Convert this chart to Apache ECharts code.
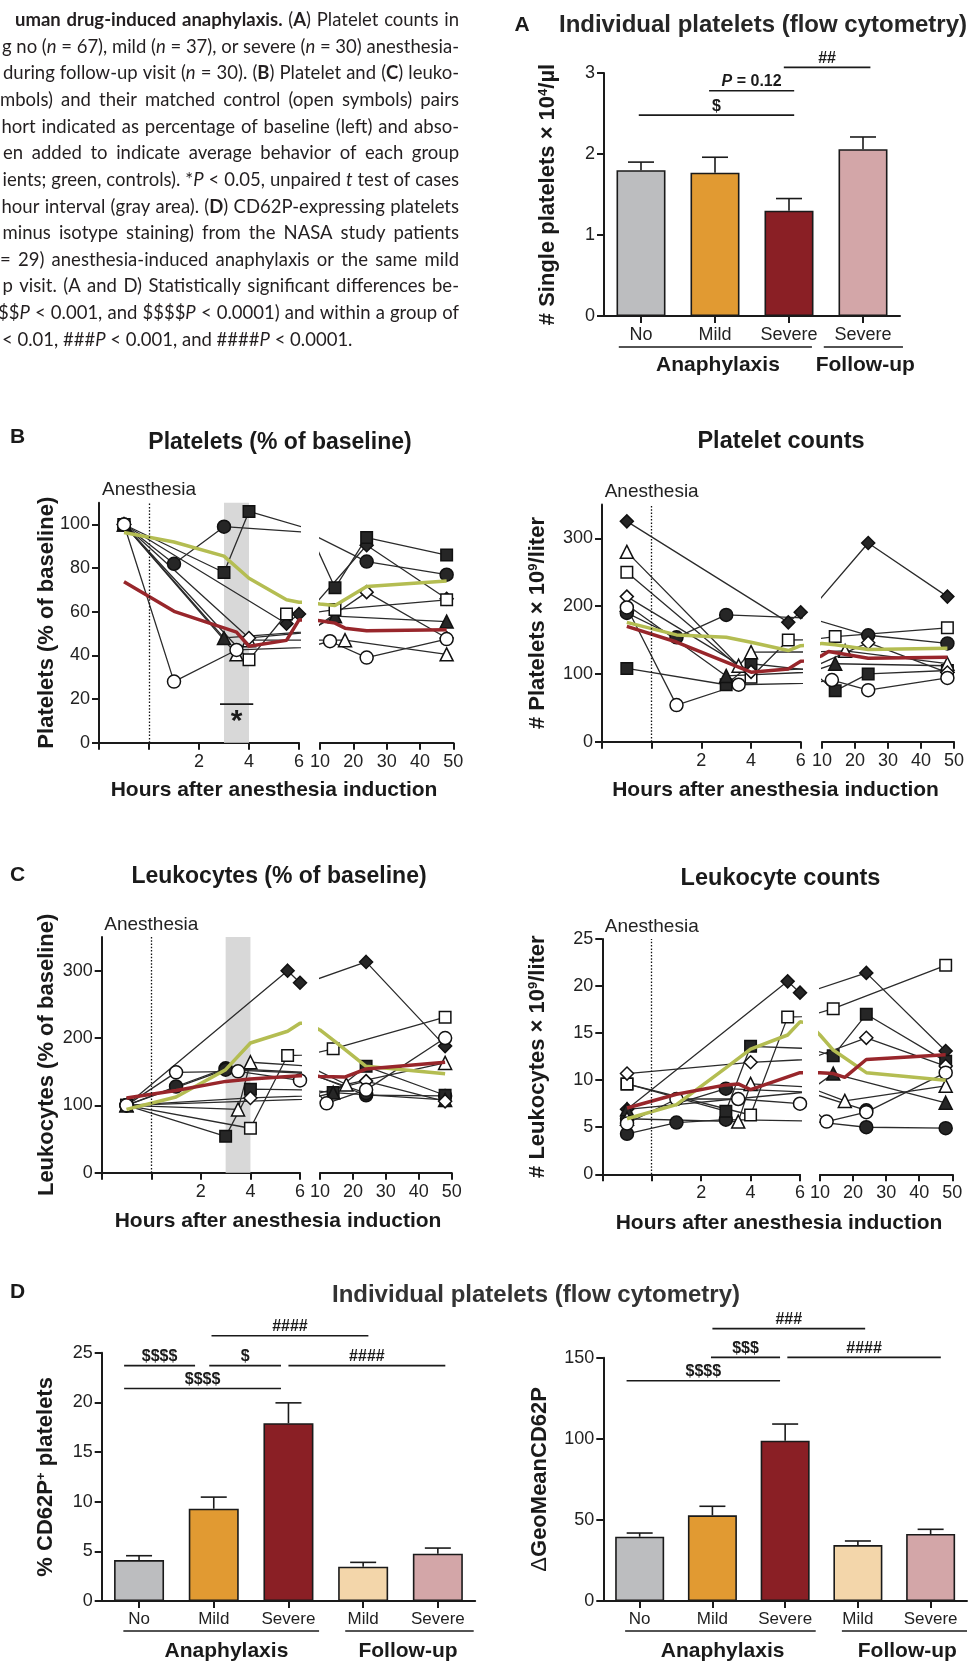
<!DOCTYPE html>
<html>
<head>
<meta charset="utf-8">
<title>Platelets and leukocytes in drug-induced anaphylaxis</title>
<script src="https://cdn.jsdelivr.net/npm/echarts@6.0.0/dist/echarts.min.js"></script>
<style>
  html, body { margin: 0; padding: 0; background: #fff; }
  #main { width: 968px; height: 1661px; }
</style>
</head>
<body>
<div id="main"></div>
<script>
// ---------------- data ----------------
// A: single platelets x 10^4/ul (mean, SEM)
var aCategories = ['No', 'Mild', 'Severe', 'Severe'];
var aMeans = [1.80, 1.77, 1.30, 2.06];
var aSem = [0.10, 0.19, 0.15, 0.15];

// D: CD62P expression (mean, SEM)
var dCategories = ['No', 'Mild', 'Severe', 'Mild', 'Severe'];
var dPctMeans = [4.12, 9.29, 17.9, 3.45, 4.76];
var dPctSem = [0.44, 1.17, 2.05, 0.44, 0.57];
var dGeoMeans = [39.6, 52.8, 98.8, 34.5, 41.3];
var dGeoSem = [2.3, 5.6, 10.3, 2.5, 2.9];

// B / C: time axes
var earlyHourTicks = [-2, 0, 2, 4, 6];
var earlyHourLabels = [2, 4, 6];
var pctTicks = [0, 20, 40, 60, 80, 100];
var countTicks = [0, 100, 200, 300];
var leukoCountTicks = [0, 5, 10, 15, 20, 25];

// B: platelets per subject, [hours, value]
var plateletSymbols = ['diamond', 'circle', 'rect', 'triangle', 'triangle', 'rect', 'diamond', 'circle'];
var plateletFilled = [true, true, true, true, false, false, false, false];
var plateletPct = [
  [[-1, 100], [5.5, 54.5], [6, 59], [24, 90.5], [48, 66]],
  [[-1, 100], [1, 82], [3, 99], [24, 83], [48, 77]],
  [[-1, 100], [3, 78], [4, 106], [14.5, 71], [24, 94], [48, 86]],
  [[-1, 100], [3, 48], [14.5, 58], [48, 55.5]],
  [[-1, 100], [3.5, 40.5], [4, 47], [17.5, 47], [48, 40.5]],
  [[-1, 100], [4, 38], [5.5, 59], [14.5, 61], [48, 65.5]],
  [[-1, 100], [4, 48], [24, 69], [48, 48]],
  [[-1, 100], [1, 28], [3.5, 42.5], [13, 46.5], [24, 39], [48, 47.5]]
];
var plateletCount = [
  [[-1, 325], [5.5, 176], [6, 191], [24, 293], [48, 214]],
  [[-1, 190], [1, 154], [3, 187], [24, 157], [48, 145]],
  [[-1, 108], [3, 84], [4, 115], [14, 75], [24, 100], [48, 105]],
  [[-1, 202], [3, 97], [14, 115], [48, 112]],
  [[-1, 280], [3.5, 112], [4, 132], [17, 134], [48, 115]],
  [[-1, 250], [4, 95], [5.5, 150], [14, 155], [48, 168]],
  [[-1, 214], [4, 103], [24, 146], [48, 102]],
  [[-1, 198], [1, 54], [3.5, 84], [13, 91], [24, 76], [48, 94]]
];
var plateletPctPatients = [[-1, 73.8], [1, 60.2], [3.5, 50.7], [4, 44.2], [5.5, 46.9], [6, 56.3], [10, 55.9], [14.5, 54.8], [17.5, 52.5], [24, 51.3], [48, 51.8]];
var plateletPctControls = [[-1, 96.3], [1, 92], [3, 85.5], [4, 75.4], [5.5, 65.5], [6, 64.4], [10, 63.6], [14.5, 62.9], [24, 71.6], [48, 74.1]];
var plateletCountPatients = [[-1, 170], [1, 147], [4, 102.5], [5.5, 107.4], [6, 118.7], [10, 127], [12, 133], [24, 123], [48, 124.6]];
var plateletCountControls = [[-1, 176], [1, 157.5], [3, 154], [4, 146.7], [5.5, 134.4], [6, 141.7], [10, 145], [14, 143], [24, 136], [48, 138]];

// C: leukocytes per subject, [hours, value]
var leukoSymbols = ['diamond', 'circle', 'circle', 'rect', 'triangle', 'triangle', 'rect', 'diamond', 'circle'];
var leukoFilled = [true, true, true, true, true, false, false, false, false];
var leukoPct = [
  [[-1, 100], [5.5, 300], [6, 282], [24, 313], [48, 188]],
  [[-1, 100], [1, 128], [3, 155], [24, 115], [48, 114]],
  [[-1, 100], [3, 153], [24, 118]],
  [[-1, 100], [3, 54], [4, 124], [14, 119], [24, 158], [48, 115]],
  [[-1, 100], [14, 119], [48, 108]],
  [[-1, 100], [3.5, 94], [4, 164], [18, 131], [48, 163]],
  [[-1, 100], [4, 66], [5.5, 174], [14, 184], [48, 231]],
  [[-1, 100], [4, 111], [24, 136], [48, 106]],
  [[-1, 100], [1, 149], [3.5, 150.5], [6, 137], [12, 103], [24, 123], [48, 200]]
];
var leukoCount = [
  [[-1, 6.9], [5.5, 20.5], [6, 19.3], [24, 21.4], [48, 13.1]],
  [[-1, 4.3], [1, 5.5], [3, 5.8], [24, 5.0], [48, 4.9]],
  [[-1, 5.9], [3, 9.1], [24, 6.8]],
  [[-1, 9.6], [3, 6.7], [4, 13.6], [14, 12.6], [24, 17], [48, 12]],
  [[-1, 6.9], [14, 10.7], [48, 7.6]],
  [[-1, 5.9], [3.5, 5.6], [4, 9.6], [17.5, 7.8], [48, 9.4]],
  [[-1, 9.6], [4, 6.3], [5.5, 16.7], [14, 17.6], [48, 22.2]],
  [[-1, 10.7], [4, 11.9], [24, 14.5], [48, 11.5]],
  [[-1, 5.4], [1, 8.0], [3.5, 8.0], [6, 7.5], [12, 5.6], [24, 6.6], [48, 10.8]]
];
var leukoPctPatients = [[-1, 111], [1, 122], [3, 135.6], [4, 139], [6, 144], [10, 143], [17.5, 142], [24, 154], [48, 164]];
var leukoPctControls = [[-1, 94], [1, 112.4], [3, 153], [4, 192.6], [5.5, 210], [6, 222], [10, 212], [14.5, 195], [24, 158], [48, 147]];
var leukoCountPatients = [[-1, 7.05], [1, 8.5], [3, 9.5], [3.5, 9.6], [4, 9.0], [6, 10.8], [10, 10.8], [14, 10.7], [17.5, 10.3], [24, 12.2], [48, 12.7]];
var leukoCountControls = [[-1, 5.9], [1, 7.4], [3, 11.3], [4, 13.3], [5.5, 14.8], [6, 16.2], [10, 14.8], [14, 13.2], [24, 10.8], [48, 10.0]];

// significance bars (x in category index, y in data units)
var aSig = [
  {x1: -0.03, x2: 2.07, y: 2.48, text: '$'},
  {x1: 0.92, x2: 2.07, y: 2.78, text: '{pi|P}{pb| = 0.12}'},
  {x1: 1.93, x2: 3.1, y: 3.07, text: '##'}
];
var dPctSig = [
  {x1: 0.97, x2: 3.07, y: 26.7, text: '####'},
  {x1: -0.2, x2: 0.75, y: 23.7, text: '$$$$'},
  {x1: 0.94, x2: 1.9, y: 23.7, text: '$'},
  {x1: 2.0, x2: 4.1, y: 23.7, text: '####'},
  {x1: -0.2, x2: 1.9, y: 21.4, text: '$$$$'}
];
var dGeoSig = [
  {x1: 1.0, x2: 3.1, y: 167.9, text: '###'},
  {x1: 0.98, x2: 1.93, y: 150.2, text: '$$$'},
  {x1: 2.03, x2: 4.14, y: 150.2, text: '####'},
  {x1: -0.18, x2: 1.93, y: 135.8, text: '$$$$'}
];
var bStar = [{x1: 2.84, x2: 4.17, y: 17.7, text: '*', below: true, size: 30, dy: 3}];

// ---------------- style ----------------
var FONT = 'Arial, "Liberation Sans", Helvetica, sans-serif';
var INK = '#1a1a1a';
var GREEN = '#b4bd52';
var RED = '#98262b';
var aColors = ['#bcbdbf', '#e19a32', '#8a1f25', '#d3a6a8'];
var dColors = ['#bcbdbf', '#e19a32', '#8a1f25', '#f3d6aa', '#d3a6a8'];

var SIG_RICH = {
  pi: {fontFamily: FONT, fontSize: 16, fontWeight: 'bold', fontStyle: 'italic', fill: INK},
  pb: {fontFamily: FONT, fontSize: 16, fontWeight: 'bold', fill: INK}
};

var grids = [], xAxes = [], yAxes = [], series = [], graphics = [];

function ext(a, b) { for (var k in b) a[k] = b[k]; return a; }
function axisLine() { return {show: true, onZero: false, lineStyle: {color: INK, width: 2}}; }
function axisTick(extra) { return ext({show: true, inside: false, length: 7, lineStyle: {color: INK, width: 2}}, extra || {}); }
function axisLabel(extra) { return ext({color: '#222', fontFamily: FONT, fontSize: 18, margin: 9}, extra || {}); }
function nameStyle() {
  return {
    fontFamily: FONT, fontSize: 22, fontWeight: 'bold', color: INK,
    rich: {
      n: {fontFamily: FONT, fontSize: 22, fontWeight: 'bold', color: INK},
      s: {fontFamily: FONT, fontSize: 13, fontWeight: 'bold', color: INK, verticalAlign: 'top'},
      d: {fontFamily: FONT, fontSize: 22, fontWeight: 'normal', color: INK}
    }
  };
}
function yName(axis, name, gap) {
  return ext(axis, {name: name, nameLocation: 'middle', nameRotate: 90, nameGap: gap,
    nameMoveOverlap: false, nameTextStyle: nameStyle()});
}

function addGrid(rect, xAxis, yAxis) {
  var i = grids.length;
  grids.push({left: rect[0], top: rect[1], width: rect[2], height: rect[3], containLabel: false, outerBoundsMode: 'none'});
  xAxis.gridIndex = i;
  yAxis.gridIndex = i;
  xAxes.push(xAxis);
  yAxes.push(yAxis);
  return i;
}

// pixel of a (possibly fractional) category index or a value pair
function toPx(api, x, y, isCat) {
  if (!isCat) return api.coord([x, y]);
  var i = Math.floor(x), p0 = api.coord([i, y]), p1 = api.coord([i + 1, y]);
  return [p0[0] + (x - i) * (p1[0] - p0[0]), p0[1]];
}

function textStyle(t, size, weight, align, vAlign) {
  return {text: t, fill: INK, fontFamily: FONT, fontSize: size, fontWeight: weight,
    align: align, textAlign: align, verticalAlign: vAlign, textVerticalAlign: vAlign, rich: SIG_RICH};
}

function errorSeries(g, means, sem) {
  return {
    type: 'custom', xAxisIndex: g, yAxisIndex: g, z: 3, silent: true,
    data: means.map(function (v, i) { return [i, v, v + sem[i]]; }),
    encode: {x: 0, y: 1},
    renderItem: function (params, api) {
      var base = api.coord([api.value(0), api.value(1)]);
      var top = api.coord([api.value(0), api.value(2)]);
      var st = {stroke: INK, lineWidth: 1.6};
      return {type: 'group', children: [
        {type: 'line', shape: {x1: base[0], y1: base[1], x2: top[0], y2: top[1]}, style: st},
        {type: 'line', shape: {x1: top[0] - 13, y1: top[1], x2: top[0] + 13, y2: top[1]}, style: st}
      ]};
    }
  };
}

function bracketSeries(g, items, isCat) {
  return {
    type: 'custom', xAxisIndex: g, yAxisIndex: g, z: 6, silent: true, clip: false,
    data: items.map(function () { return [0, 0]; }),
    encode: {x: 0, y: 1},
    renderItem: function (params, api) {
      var it = items[params.dataIndex];
      var a = toPx(api, it.x1, it.y, isCat), b = toPx(api, it.x2, it.y, isCat);
      var below = !!it.below;
      var ty = below ? a[1] + (it.dy || 1) : a[1] - 1;
      return {type: 'group', children: [
        {type: 'line', shape: {x1: a[0], y1: a[1], x2: b[0], y2: b[1]}, style: {stroke: INK, lineWidth: 1.6}},
        {type: 'text', x: (a[0] + b[0]) / 2, y: ty,
          style: textStyle(it.text, it.size || 16, 'bold', 'center', below ? 'top' : 'bottom')}
      ]};
    }
  };
}

function groupSeries(g, groups, lineDy, textDy) {
  return {
    type: 'custom', xAxisIndex: g, yAxisIndex: g, silent: true, clip: false,
    data: groups.map(function () { return [0, 0]; }),
    encode: {x: 0, y: 1},
    renderItem: function (params, api) {
      var it = groups[params.dataIndex];
      var a = toPx(api, it.x1, 0, true), b = toPx(api, it.x2, 0, true), c = toPx(api, it.labelX, 0, true);
      return {type: 'group', children: [
        {type: 'line', shape: {x1: a[0], y1: a[1] + lineDy, x2: b[0], y2: a[1] + lineDy}, style: {stroke: INK, lineWidth: 1.6}},
        {type: 'text', x: c[0], y: a[1] + textDy, style: textStyle(it.text, 21, 'bold', 'center', 'middle')}
      ]};
    }
  };
}

function barPanel(o) {
  var g = addGrid(o.rect,
    {type: 'category', data: o.categories, axisLine: axisLine(),
      axisTick: axisTick({alignWithLabel: true}),
      axisLabel: axisLabel({fontSize: o.labelSize, margin: 10, interval: 0}),
      splitLine: {show: false}},
    yName({type: 'value', min: 0, max: o.yMax, interval: o.yInterval, axisLine: axisLine(),
      axisTick: axisTick(), axisLabel: axisLabel({margin: 9}), splitLine: {show: false}}, o.yName, o.nameGap));
  series.push({
    type: 'bar', xAxisIndex: g, yAxisIndex: g, barWidth: o.barWidth, z: 2, silent: true,
    data: o.means.map(function (v, i) { return {value: v, itemStyle: {color: o.colors[i]}}; }),
    itemStyle: {borderColor: INK, borderWidth: 1.6}
  });
  series.push(errorSeries(g, o.means, o.sem));
  series.push(bracketSeries(g, o.sig, true));
  series.push(groupSeries(g, o.groups, o.lineDy, o.textDy));
}

function subjectLine(g, pts, sym, filled) {
  return {
    type: 'line', xAxisIndex: g, yAxisIndex: g, data: pts, clip: true, z: 2, silent: true,
    symbol: sym, symbolSize: sym === 'rect' ? 11.5 : 13, showAllSymbol: true,
    lineStyle: {color: '#2b2b2b', width: 1.3},
    itemStyle: {color: filled ? '#262626' : '#ffffff', borderColor: '#111', borderWidth: 1.5}
  };
}
function meanLine(g, pts, color) {
  return {
    type: 'line', xAxisIndex: g, yAxisIndex: g, data: pts, clip: true, z: 3, silent: true,
    symbol: 'none', lineStyle: {color: color, width: 3.5}
  };
}

function linePanel(o) {
  function yAx(show) {
    return {type: 'value', min: 0, max: o.yMax, show: show, axisLine: axisLine(),
      axisTick: axisTick({customValues: o.yTicks}), axisLabel: axisLabel({customValues: o.yTicks, margin: 9}),
      splitLine: {show: false}};
  }
  var gL = addGrid(o.left,
    {type: 'value', min: -2, max: 6, axisLine: axisLine(),
      axisTick: axisTick({customValues: earlyHourTicks}),
      axisLabel: axisLabel({customValues: earlyHourLabels, margin: 10}), splitLine: {show: false}},
    yName(yAx(true), o.yName, o.nameGap));
  var gR = addGrid(o.right,
    {type: 'value', min: 10, max: 50, interval: 10, axisLine: axisLine(), axisTick: axisTick(),
      axisLabel: axisLabel({margin: 10}), splitLine: {show: false}},
    yAx(false));
  [gL, gR].forEach(function (g) {
    o.subjects.forEach(function (pts, k) { series.push(subjectLine(g, pts, o.symbols[k], o.filled[k])); });
  });
  [gL, gR].forEach(function (g, j) {
    var ctrl = meanLine(g, o.controls, GREEN);
    if (j === 0) {
      ctrl.markLine = {
        silent: true, symbol: ['none', 'none'], animation: false,
        lineStyle: {type: [1.5, 1.8], color: '#111', width: 1.3},
        label: {show: true, position: 'end', formatter: 'Anesthesia', color: '#222',
          fontFamily: FONT, fontSize: 19, distance: 3},
        data: [{xAxis: 0}]
      };
      if (o.band) {
        ctrl.markArea = {silent: true, label: {show: false}, itemStyle: {color: '#d8d8d8'},
          data: [[{xAxis: o.band[0]}, {xAxis: o.band[1]}]]};
      }
    }
    series.push(ctrl);
    series.push(meanLine(g, o.patients, RED));
  });
  if (o.star) series.push(bracketSeries(gL, o.star, false));
}

// ---------------- panels ----------------
barPanel({
  rect: [604, 73, 296, 243], categories: aCategories, means: aMeans, sem: aSem, colors: aColors,
  yMax: 3, yInterval: 1, yName: '{n|# Single platelets × 10}{s|4}{n|/µl}', nameGap: 45,
  labelSize: 18, barWidth: 49, sig: aSig, lineDy: 31, textDy: 49,
  groups: [
    {text: 'Anaphylaxis', x1: -0.3, x2: 2.31, labelX: 1.04},
    {text: 'Follow-up', x1: 2.47, x2: 3.54, labelX: 3.03}
  ]
});

linePanel({
  left: [99, 502.7, 200, 240], right: [320, 502.7, 133.3, 240], yMax: 110, yTicks: pctTicks,
  yName: 'Platelets (% of baseline)', nameGap: 41,
  subjects: plateletPct, symbols: plateletSymbols, filled: plateletFilled,
  patients: plateletPctPatients, controls: plateletPctControls, band: [3, 4], star: bStar
});
linePanel({
  left: [602, 504.4, 198.7, 237.3], right: [822, 504.4, 132, 237.3], yMax: 350, yTicks: countTicks,
  yName: '{n|# Platelets × 10}{s|9}{n|/liter}', nameGap: 53,
  subjects: plateletCount, symbols: plateletSymbols, filled: plateletFilled,
  patients: plateletCountPatients, controls: plateletCountControls
});
linePanel({
  left: [101.7, 937, 198.3, 235.7], right: [320, 937, 131.7, 235.7], yMax: 350, yTicks: countTicks,
  yName: 'Leukocytes (% of baseline)', nameGap: 44,
  subjects: leukoPct, symbols: leukoSymbols, filled: leukoFilled,
  patients: leukoPctPatients, controls: leukoPctControls, band: [3, 4]
});
linePanel({
  left: [602.3, 939, 197.7, 235.3], right: [820, 939, 132.3, 235.3], yMax: 25, yTicks: leukoCountTicks,
  yName: '{n|# Leukocytes × 10}{s|9}{n|/liter}', nameGap: 53,
  subjects: leukoCount, symbols: leukoSymbols, filled: leukoFilled,
  patients: leukoCountPatients, controls: leukoCountControls
});

barPanel({
  rect: [101.7, 1352.7, 373.5, 248.3], categories: dCategories, means: dPctMeans, sem: dPctSem, colors: dColors,
  yMax: 25, yInterval: 5, yName: '{n|% CD62P}{s|+}{n| platelets}', nameGap: 45,
  labelSize: 17, barWidth: 50, sig: dPctSig, lineDy: 30, textDy: 50,
  groups: [
    {text: 'Anaphylaxis', x1: -0.21, x2: 2.41, labelX: 1.17},
    {text: 'Follow-up', x1: 2.76, x2: 4.48, labelX: 3.6}
  ]
});
barPanel({
  rect: [603.3, 1357.7, 363.7, 243.3], categories: dCategories, means: dGeoMeans, sem: dGeoSem, colors: dColors,
  yMax: 150, yInterval: 50, yName: '{d|Δ}{n|GeoMeanCD62P}', nameGap: 52,
  labelSize: 17, barWidth: 49, sig: dGeoSig, lineDy: 30, textDy: 50,
  groups: [
    {text: 'Anaphylaxis', x1: -0.2, x2: 2.42, labelX: 1.14},
    {text: 'Follow-up', x1: 2.78, x2: 4.5, labelX: 3.68}
  ]
});

// ---------------- free text ----------------
function addText(x, y, text, size, weight, align, color, family, rich) {
  graphics.push({
    type: 'text', x: x, y: y, silent: true,
    style: {text: text, fill: color || INK, fontFamily: family || FONT, fontSize: size, fontWeight: weight,
      align: align, textAlign: align, verticalAlign: 'middle', textVerticalAlign: 'middle', rich: rich}
  });
}

addText(522, 25, 'A', 21, 'bold', 'center');
addText(763, 25, 'Individual platelets (flow cytometry)', 24, 'bold', 'center', '#262626');
addText(17.5, 437.5, 'B', 21, 'bold', 'center');
addText(280, 443, 'Platelets (% of baseline)', 23, 'bold', 'center');
addText(781, 442, 'Platelet counts', 23.5, 'bold', 'center');
addText(17.5, 875.5, 'C', 21, 'bold', 'center');
addText(279, 877, 'Leukocytes (% of baseline)', 23, 'bold', 'center');
addText(780.5, 879, 'Leukocyte counts', 23.5, 'bold', 'center');
addText(17.5, 1292.5, 'D', 21, 'bold', 'center');
addText(536, 1295, 'Individual platelets (flow cytometry)', 24, 'bold', 'center', '#333');
addText(274, 790, 'Hours after anesthesia induction', 21, 'bold', 'center');
addText(775.5, 790, 'Hours after anesthesia induction', 21, 'bold', 'center');
addText(278, 1221, 'Hours after anesthesia induction', 21, 'bold', 'center');
addText(779, 1223, 'Hours after anesthesia induction', 21, 'bold', 'center');

// caption block (cropped at the left edge, justified to x = 459)
var CAP_FONT = 'Lato, "Noto Sans", sans-serif';
var CAP_SIZE = 18.5;
var CAP_INK = '#231f20';
var CAP_RICH = {
  b: {fontFamily: CAP_FONT, fontSize: CAP_SIZE, fontWeight: 'bold', fill: CAP_INK},
  i: {fontFamily: CAP_FONT, fontSize: CAP_SIZE, fontStyle: 'italic', fill: CAP_INK}
};
var captionLines = [
  '{b|uman} {b|drug-induced} {b|anaphylaxis.} ({b|A}) Platelet counts in',
  'g no ({i|n} = 67), mild ({i|n} = 37), or severe ({i|n} = 30) anesthesia-',
  'during follow-up visit ({i|n} = 30). ({b|B}) Platelet and ({b|C}) leuko-',
  'mbols) and their matched control (open symbols) pairs',
  'hort indicated as percentage of baseline (left) and abso-',
  'en added to indicate average behavior of each group',
  'ients; green, controls). *{i|P} < 0.05, unpaired {i|t} test of cases',
  'hour interval (gray area). ({b|D}) CD62P-expressing platelets',
  'minus isotype staining) from the NASA study patients',
  '= 29) anesthesia-induced anaphylaxis or the same mild',
  'p visit. (A and D) Statistically significant differences be-',
  '$${i|P} < 0.001, and $$$${i|P} < 0.0001) and within a group of',
  '< 0.01, ###{i|P} < 0.001, and ####{i|P} < 0.0001.'
];
var captionStarts = [15, 2, 3, 0, 1.5, 3, 2.5, 1.5, 2.5, 0, 2.5, -2, 2];
var captionRight = 459;

var measureCtx = document.createElement('canvas').getContext('2d');
function segWidth(text, kind) {
  measureCtx.font = (kind === 'i' ? 'italic ' : '') + (kind === 'b' ? 'bold ' : '') + CAP_SIZE + 'px ' + CAP_FONT;
  return measureCtx.measureText(text).width;
}
function wordWidth(word) {
  var re = /\{(\w+)\|([^}]*)\}/g, w = 0, last = 0, m;
  while ((m = re.exec(word))) {
    w += segWidth(word.slice(last, m.index), '') + segWidth(m[2], m[1]);
    last = re.lastIndex;
  }
  return w + segWidth(word.slice(last), '');
}
captionLines.forEach(function (line, i) {
  var words = line.split(' ');
  var widths = words.map(wordWidth);
  var total = widths.reduce(function (s, w) { return s + w; }, 0);
  var last = i === captionLines.length - 1;
  var natural = segWidth(' ', '');
  var x = captionStarts[i];
  var gap = natural;
  if (!last) {
    gap = (captionRight - x - total) / (words.length - 1);
    if (gap < natural * 0.9) {           // too long: keep spacing, let the left edge run off the page
      gap = natural * 0.9;
      x = captionRight - total - gap * (words.length - 1);
    }
  }
  var y = 20 + i * 26.65;
  words.forEach(function (w, k) {
    addText(x, y, w, CAP_SIZE, 'normal', 'left', CAP_INK, CAP_FONT, CAP_RICH);
    x += widths[k] + gap;
  });
});

// ---------------- render ----------------
var chart = echarts.init(document.getElementById('main'), null, {renderer: 'canvas', width: 968, height: 1661});
chart.setOption({
  backgroundColor: '#ffffff',
  animation: false,
  grid: grids,
  xAxis: xAxes,
  yAxis: yAxes,
  series: series,
  graphic: {elements: graphics}
});
</script>
</body>
</html>
